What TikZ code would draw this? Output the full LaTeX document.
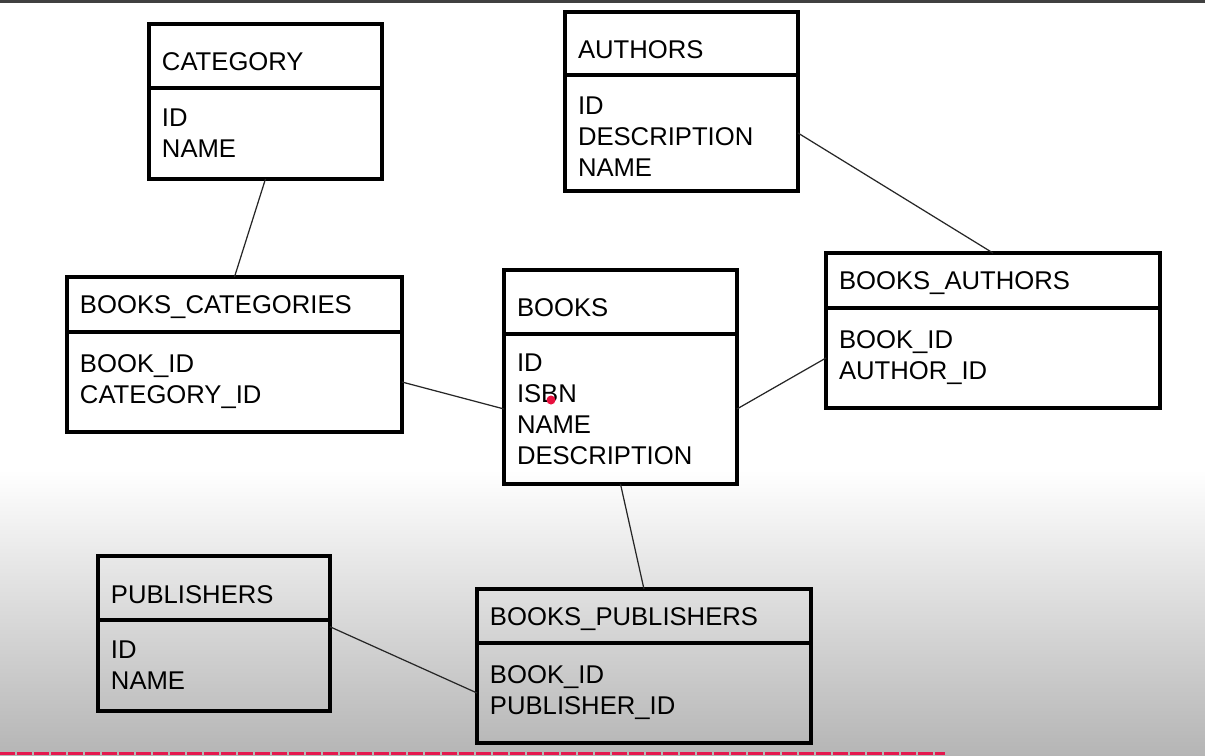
\documentclass[tikz,border=0pt]{standalone}
\usepackage{fontspec}
\setmainfont{Liberation Sans}
\usetikzlibrary{calc}
\definecolor{barred}{RGB}{228,24,78}
\definecolor{dotred}{RGB}{232,16,62}
\tikzset{
  thead/.style={draw,line width=2pt,outer sep=0pt,anchor=north west,inner xsep=0.26cm,
    text width=#1,align=left,minimum height=1.28cm,text height=0.6cm,text depth=0pt},
  shorthead/.style={thead=#1,minimum height=1.1cm,text height=0.36cm},
  tbody/.style={draw,line width=2pt,outer sep=0pt,anchor=north,inner xsep=0.26cm,
    text width=#1,align=left},
  link/.style={line width=0.7pt,black!85}
}
\begin{document}
\begin{tikzpicture}[x=0.02cm,y=-0.02cm,font=\fontsize{14.6}{17.6}\selectfont]
\useasboundingbox (0,0) rectangle (1205,755);
\fill[white] (0,0) rectangle (1205,470);
\shade[top color=white,bottom color=black!29] (0,470) rectangle (1205,755);
\draw[black!75,line width=0.05cm] (0,1.5) -- (1205,1.5);
\draw[barred,line width=0.06cm,dash pattern=on 0.3cm off 0.04cm] (0,753.5) -- (945,753.5);

\node[thead=4.14cm] (cat-h) at (149,24) {CATEGORY};
\node[tbody=4.14cm,minimum height=1.82cm] (cat) at (cat-h.south) {ID\\NAME};

\node[thead=4.14cm,minimum height=1.26cm] (auth-h) at (565,12) {AUTHORS};
\node[tbody=4.14cm,minimum height=2.32cm] (auth) at (auth-h.south) {\rule{0pt}{0.5cm}ID\\DESCRIPTION\\NAME};

\node[shorthead=6.18cm] (bc-h) at (67,277) {BOOKS\_CATEGORIES};
\node[tbody=6.18cm,minimum height=2cm] (bc) at (bc-h.south) {BOOK\_ID\\CATEGORY\_ID};

\node[thead=4.14cm] (books-h) at (504,270) {BOOKS};
\node[tbody=4.14cm,minimum height=3cm] (books) at (books-h.south) {ID\\ISBN\\NAME\\DESCRIPTION};

\node[shorthead=6.16cm] (ba-h) at (826,253) {BOOKS\_AUTHORS};
\node[tbody=6.16cm,minimum height=2cm] (ba) at (ba-h.south) {BOOK\_ID\\AUTHOR\_ID};

\node[thead=4.12cm] (pub-h) at (98,556) {PUBLISHERS};
\node[tbody=4.12cm,minimum height=1.82cm] (pub) at (pub-h.south) {ID\\NAME};

\node[shorthead=6.16cm,minimum height=1.08cm] (bp-h) at (477,589) {BOOKS\_PUBLISHERS};
\node[tbody=6.16cm,minimum height=2cm] (bp) at (bp-h.south) {BOOK\_ID\\PUBLISHER\_ID};

\draw[link] (cat.south) -- (bc-h.north);
\draw[link] (auth.east) -- (ba-h.north);
\draw[link] (bc.east) -- (books.west);
\draw[link] (books.east) -- (ba.west);
\draw[link] (books.south) -- (bp-h.north);
\draw[link] ($(pub-h.east)!.5!(pub.east)$) -- (bp.west);

\fill[dotred] (551,400) circle (4.5);
\end{tikzpicture}
\end{document}
